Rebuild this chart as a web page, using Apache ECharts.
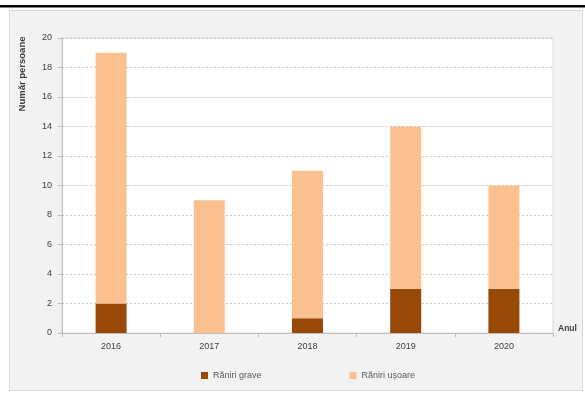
<!DOCTYPE html>
<html><head><meta charset="utf-8">
<script src="https://cdn.jsdelivr.net/npm/echarts@6/dist/echarts.min.js"></script>
<style>html,body{margin:0;padding:0;background:#fff}#c{width:585px;height:405px}</style>
</head><body><div id="c"></div>
<script>
var categories = ['2016','2017','2018','2019','2020'];
var raniriGrave = [2, 0, 1, 3, 3];
var raniriUsoare = [17, 9, 10, 11, 7];
var yTicks = {min: 0, max: 20, interval: 2};
var seriesNames = ['Răniri grave', 'Răniri ușoare'];

var font = 'Liberation Sans';
var chart = echarts.init(document.getElementById('c'), null, {renderer: 'canvas'});
chart.setOption({
  animation: false,
  backgroundColor: '#ffffff',
  textStyle: {fontFamily: font},
  graphic: [
    {type: 'rect', z: -10, shape: {x: 0, y: 5, width: 585, height: 2.5}, style: {fill: '#000'}},
    {type: 'rect', z: -10, shape: {x: 9.5, y: 10.5, width: 573, height: 380}, style: {fill: '#f2f2f2', stroke: '#d9d9d9', lineWidth: 1}},
    {type: 'text', x: 22, y: 74, rotation: Math.PI / 2, z: 10,
     style: {text: 'Număr persoane', font: 'bold 9.5px ' + font, fill: '#404040', align: 'center', verticalAlign: 'middle'}}
  ],
  grid: {left: 62, right: 32, top: 38, bottom: 72, show: true, backgroundColor: '#ffffff', borderColor: '#d9d9d9', borderWidth: 1},
  legend: {
    left: 196, top: 366, itemWidth: 7, itemHeight: 7, itemGap: 88, icon: 'rect',
    textStyle: {fontSize: 9, color: '#595959', fontFamily: font},
    data: seriesNames
  },
  xAxis: {
    type: 'category', data: categories,
    name: 'Anul', nameLocation: 'end', nameGap: 5,
    nameTextStyle: {fontSize: 8.5, fontWeight: 'bold', color: '#404040', verticalAlign: 'bottom'},
    axisLine: {lineStyle: {color: '#bfbfbf'}},
    axisTick: {show: true, length: 4, lineStyle: {color: '#bfbfbf'}},
    axisLabel: {fontSize: 9, color: '#404040', margin: 9}
  },
  yAxis: {
    type: 'value', min: yTicks.min, max: yTicks.max, interval: yTicks.interval,
    axisLine: {show: true, lineStyle: {color: '#bfbfbf'}},
    axisTick: {show: true, length: 4, lineStyle: {color: '#bfbfbf'}},
    axisLabel: {fontSize: 9, color: '#404040', margin: 10},
    splitLine: {lineStyle: {color: '#c8c8c8', type: [2, 2], width: 1}}
  },
  series: [
    {name: seriesNames[0], type: 'bar', stack: 's', data: raniriGrave, barWidth: 31,
     itemStyle: {color: '#984807'}},
    {name: seriesNames[1], type: 'bar', stack: 's', data: raniriUsoare, barWidth: 31,
     itemStyle: {color: '#fac090'}}
  ]
});
</script></body></html>
